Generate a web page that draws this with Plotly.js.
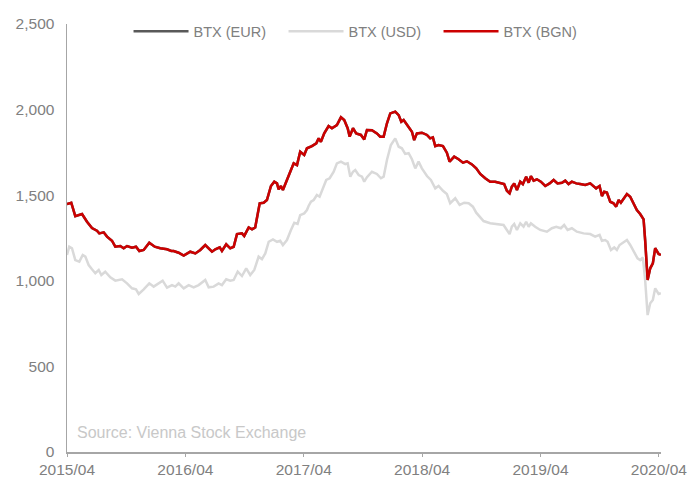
<!DOCTYPE html>
<html>
<head>
<meta charset="utf-8">
<script src="https://cdn.plot.ly/plotly-3.0.1.min.js"></script>
<style>
  html, body { margin: 0; padding: 0; background: #ffffff; }
  #chart { width: 690px; height: 477px; }
</style>
</head>
<body>
<div id="chart"></div>
<script>
// Time in decimal years (2015.25 = April 2015)
const tickValues = [2015.25, 2016.25, 2017.25, 2018.25, 2019.25, 2020.25];
const tickLabels = ["2015/04", "2016/04", "2017/04", "2018/04", "2019/04", "2020/04"];

const bgnTime = [2015.25,2015.286,2015.320,2015.377,2015.419,2015.461,2015.503,2015.523,2015.560,2015.588,
  2015.630,2015.658,2015.700,2015.729,2015.757,2015.799,2015.833,2015.861,2015.898,2015.945,
  2015.991,2016.038,2016.095,2016.131,2016.151,2016.193,2016.236,2016.291,2016.334,2016.376,
  2016.418,2016.447,2016.475,2016.503,2016.540,2016.559,2016.595,2016.629,2016.658,2016.686,
  2016.728,2016.747,2016.785,2016.813,2016.840,2016.878,2016.911,2016.939,2016.973,2017.001,
  2017.024,2017.038,2017.057,2017.074,2017.108,2017.136,2017.165,2017.193,2017.220,2017.254,
  2017.277,2017.319,2017.356,2017.376,2017.395,2017.423,2017.460,2017.488,2017.530,2017.564,
  2017.592,2017.621,2017.638,2017.666,2017.693,2017.733,2017.761,2017.784,2017.826,2017.868,
  2017.896,2017.925,2017.953,2017.981,2018.023,2018.052,2018.074,2018.094,2018.136,2018.164,
  2018.183,2018.206,2018.248,2018.291,2018.318,2018.341,2018.361,2018.389,2018.426,2018.459,
  2018.482,2018.521,2018.558,2018.595,2018.628,2018.671,2018.707,2018.741,2018.783,2018.825,
  2018.867,2018.910,2018.943,2018.966,2018.989,2019.008,2019.028,2019.051,2019.079,2019.101,
  2019.129,2019.150,2019.169,2019.192,2019.220,2019.253,2019.290,2019.327,2019.361,2019.394,
  2019.431,2019.459,2019.487,2019.515,2019.552,2019.585,2019.628,2019.670,2019.698,2019.720,
  2019.749,2019.769,2019.788,2019.811,2019.839,2019.867,2019.889,2019.910,2019.929,2019.952,
  2019.980,2020.008,2020.036,2020.064,2020.092,2020.121,2020.134,2020.155,2020.177,2020.199,
  2020.219,2020.248,2020.267];

const btxBgn = [1449,1456,1378,1390,1345,1308,1293,1277,1283,1258,
  1234,1199,1203,1190,1203,1193,1199,1174,1180,1222,
  1199,1190,1184,1174,1174,1164,1147,1170,1160,1180,
  1209,1190,1170,1184,1195,1174,1213,1190,1199,1273,
  1277,1262,1312,1301,1312,1453,1456,1472,1554,1579,
  1569,1534,1554,1530,1589,1628,1686,1676,1754,1735,
  1774,1787,1803,1832,1812,1861,1904,1891,1910,1955,
  1939,1891,1842,1891,1861,1852,1826,1881,1880,1861,
  1842,1842,1920,1978,1988,1968,1929,1939,1900,1871,
  1822,1861,1865,1852,1832,1838,1787,1793,1787,1748,
  1696,1725,1710,1690,1698,1680,1657,1624,1599,1579,
  1579,1569,1565,1526,1511,1550,1569,1530,1579,1565,
  1608,1573,1612,1585,1593,1579,1554,1569,1589,1569,
  1573,1585,1565,1579,1569,1565,1560,1569,1554,1540,
  1554,1495,1520,1515,1462,1453,1433,1472,1456,1476,
  1507,1491,1453,1413,1390,1359,1238,1005,1073,1102,
  1190,1157,1151];

// BTX in EUR and BGN coincide (fixed peg), the EUR line sits under the BGN line
const btxEur = [1449,1456,1378,1390,1345,1308,1293,1277,1283,1258,
  1234,1199,1203,1190,1203,1193,1199,1174,1180,1222,
  1199,1190,1184,1174,1174,1164,1147,1170,1160,1180,
  1209,1190,1170,1184,1195,1174,1213,1190,1199,1273,
  1277,1262,1312,1301,1312,1453,1456,1472,1554,1579,
  1569,1534,1554,1530,1589,1628,1686,1676,1754,1735,
  1774,1787,1803,1832,1812,1861,1904,1891,1910,1955,
  1939,1891,1842,1891,1861,1852,1826,1881,1880,1861,
  1842,1842,1920,1978,1988,1968,1929,1939,1900,1871,
  1822,1861,1865,1852,1832,1838,1787,1793,1787,1748,
  1696,1725,1710,1690,1698,1680,1657,1624,1599,1579,
  1579,1569,1565,1526,1511,1550,1569,1530,1579,1565,
  1608,1573,1612,1585,1593,1579,1554,1569,1589,1569,
  1573,1585,1565,1579,1569,1565,1560,1569,1554,1540,
  1554,1495,1520,1515,1462,1453,1433,1472,1456,1476,
  1507,1491,1453,1413,1390,1359,1238,1005,1073,1102,
  1190,1157,1151];

const usdTime = [2015.25,2015.269,2015.292,2015.320,2015.354,2015.383,2015.405,2015.433,2015.461,2015.489,
  2015.518,2015.540,2015.573,2015.616,2015.658,2015.715,2015.757,2015.799,2015.833,2015.856,
  2015.898,2015.945,2015.982,2016.024,2016.058,2016.095,2016.137,2016.165,2016.193,2016.236,
  2016.278,2016.320,2016.362,2016.418,2016.447,2016.489,2016.531,2016.559,2016.595,2016.629,
  2016.658,2016.692,2016.728,2016.764,2016.798,2016.832,2016.869,2016.897,2016.925,2016.954,
  2016.990,2017.024,2017.051,2017.074,2017.108,2017.142,2017.170,2017.198,2017.220,2017.254,
  2017.277,2017.291,2017.311,2017.334,2017.361,2017.384,2017.404,2017.440,2017.469,2017.503,
  2017.530,2017.564,2017.601,2017.621,2017.643,2017.666,2017.685,2017.714,2017.742,2017.761,
  2017.784,2017.826,2017.868,2017.902,2017.925,2017.953,2017.986,2018.023,2018.052,2018.079,
  2018.107,2018.136,2018.164,2018.192,2018.220,2018.248,2018.291,2018.324,2018.361,2018.389,
  2018.426,2018.459,2018.487,2018.530,2018.567,2018.606,2018.643,2018.679,2018.707,2018.727,
  2018.769,2018.825,2018.882,2018.938,2018.966,2018.989,2019.008,2019.028,2019.051,2019.079,
  2019.107,2019.129,2019.150,2019.169,2019.205,2019.248,2019.304,2019.346,2019.383,2019.422,
  2019.450,2019.479,2019.515,2019.557,2019.614,2019.670,2019.712,2019.749,2019.769,2019.796,
  2019.817,2019.845,2019.873,2019.895,2019.918,2019.946,2019.980,2020.008,2020.036,2020.070,
  2020.092,2020.115,2020.134,2020.155,2020.177,2020.199,2020.219,2020.248,2020.267];

const btxUsd = [1151,1199,1190,1121,1112,1151,1141,1092,1067,1044,
  1063,1034,1053,1020,1001,1009,985,956,950,923,
  950,985,966,985,1001,960,975,966,985,956,
  975,962,975,1005,962,966,985,975,1009,1001,
  1005,1053,1028,1073,1034,1063,1141,1126,1160,1228,
  1242,1228,1234,1209,1238,1297,1339,1332,1384,1394,
  1413,1437,1462,1472,1501,1491,1530,1589,1599,1637,
  1686,1696,1682,1686,1608,1637,1647,1618,1608,1579,
  1605,1637,1624,1599,1608,1706,1793,1832,1783,1774,
  1741,1745,1710,1657,1696,1657,1612,1589,1540,1554,
  1526,1507,1453,1482,1443,1456,1453,1433,1398,1384,
  1349,1336,1332,1326,1297,1273,1316,1332,1297,1336,
  1316,1345,1316,1336,1316,1297,1287,1307,1316,1307,
  1326,1297,1307,1287,1277,1273,1258,1268,1234,1238,
  1228,1180,1195,1180,1209,1222,1238,1209,1170,1131,
  1121,1136,1005,800,869,888,956,923,927];

const seriesNames = ["BTX (EUR)", "BTX (USD)", "BTX (BGN)"];
const sourceText = "Source: Vienna Stock Exchange";

const traces = [
  { x: bgnTime, y: btxEur, name: seriesNames[0], type: "scatter", mode: "lines",
    line: { color: "#595959", width: 2.5 }, hoverinfo: "skip" },
  { x: usdTime, y: btxUsd, name: seriesNames[1], type: "scatter", mode: "lines",
    line: { color: "#d9d9d9", width: 2.5 }, hoverinfo: "skip" },
  { x: bgnTime, y: btxBgn, name: seriesNames[2], type: "scatter", mode: "lines",
    line: { color: "#cc0000", width: 2.5 }, hoverinfo: "skip" }
];

const fontFamily = "Liberation Sans, Arial, sans-serif";

const layout = {
  width: 690, height: 477,
  margin: { l: 67, r: 29, t: 24, b: 25, pad: 0 },
  paper_bgcolor: "#ffffff", plot_bgcolor: "#ffffff",
  showlegend: true,
  legend: {
    orientation: "h", x: 0.495, xanchor: "center", y: 1.02, yanchor: "top",
    font: { family: fontFamily, size: 14.5, color: "#808080" },
    bgcolor: "rgba(0,0,0,0)", itemwidth: 55, entrywidth: 85, traceorder: "normal"
  },
  xaxis: {
    type: "linear", range: [2015.25, 2020.268],
    tickmode: "array", tickvals: tickValues, ticktext: tickLabels,
    ticks: "outside", ticklen: 3, tickcolor: "#a6a6a6", tickwidth: 1,
    showline: true, linecolor: "#a6a6a6", linewidth: 1.5,
    showgrid: false, zeroline: false,
    tickfont: { family: fontFamily, size: 15.5, color: "#808080" }
  },
  yaxis: {
    range: [0, 2500], tickvals: [0, 500, 1000, 1500, 2000, 2500],
    tickformat: ",d", ticks: "outside", ticklen: 8, tickcolor: "rgba(0,0,0,0)",
    showline: true, linecolor: "#a6a6a6", linewidth: 1.5,
    showgrid: false, zeroline: false,
    tickfont: { family: fontFamily, size: 15.5, color: "#808080" }
  },
  annotations: [{
    text: sourceText, xref: "paper", yref: "paper", x: 0.013, y: 0.022,
    xanchor: "left", yanchor: "bottom", showarrow: false,
    font: { family: fontFamily, size: 16, color: "#c8c8c8" }
  }]
};

Plotly.newPlot("chart", traces, layout, { staticPlot: true, displayModeBar: false });
</script>
</body>
</html>
